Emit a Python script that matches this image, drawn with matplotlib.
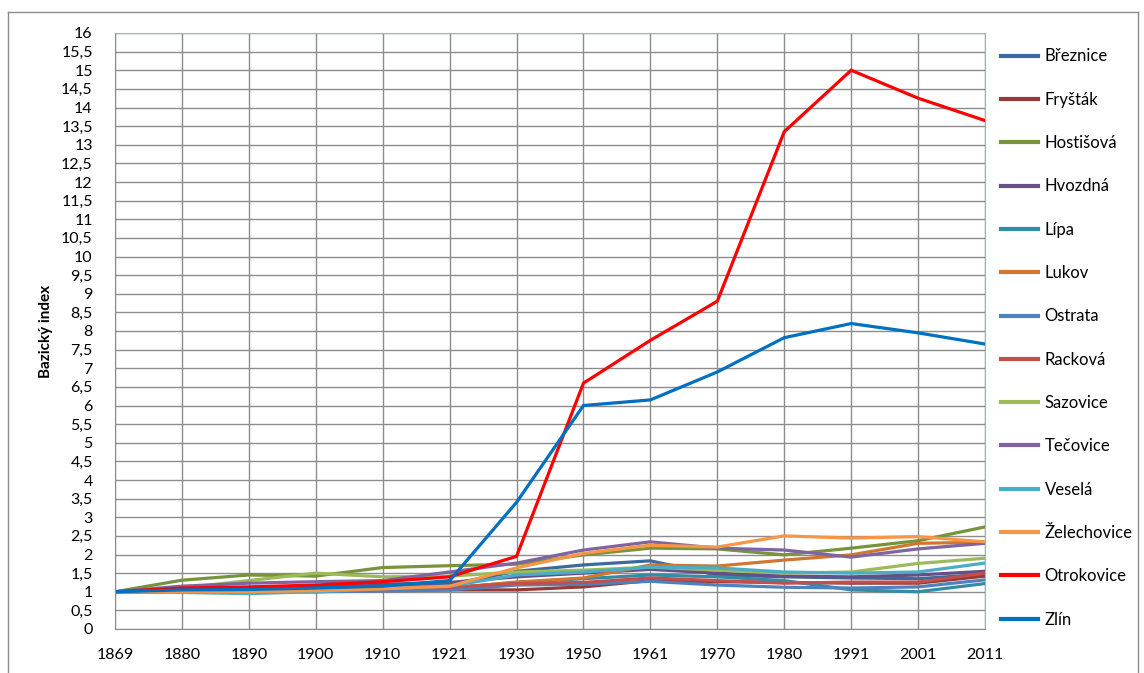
import matplotlib.pyplot as plt
from matplotlib.lines import Line2D

plt.rcParams['font.family'] = ['Lato', 'DejaVu Sans']

years = ['1869', '1880', '1890', '1900', '1910', '1921', '1930', '1950',
         '1961', '1970', '1980', '1991', '2001', '2011']

breznice = [1, 1.03, 1.05, 1.08, 1.1, 1.2, 1.55, 1.72, 1.83, 1.45, 1.4, 1.37, 1.35, 1.47]
frystak = [1, 1.0, 1.0, 1.02, 1.03, 1.05, 1.05, 1.13, 1.3, 1.27, 1.25, 1.23, 1.23, 1.42]
hostisova = [1, 1.31, 1.45, 1.42, 1.65, 1.7, 1.74, 1.99, 2.17, 2.15, 1.99, 2.17, 2.37, 2.74]
hvozdna = [1, 1.05, 1.1, 1.15, 1.2, 1.25, 1.4, 1.5, 1.6, 1.5, 1.42, 1.4, 1.45, 1.55]
lipa = [1, 1.0, 0.98, 1.0, 1.05, 1.1, 1.25, 1.35, 1.45, 1.4, 1.3, 1.05, 1.0, 1.22]
lukov = [1, 1.0, 1.0, 1.02, 1.05, 1.1, 1.26, 1.37, 1.72, 1.69, 1.85, 1.99, 2.3, 2.33]
ostrata = [1, 1.0, 1.0, 1.0, 1.02, 1.05, 1.18, 1.2, 1.28, 1.18, 1.12, 1.1, 1.13, 1.32]
rackova = [1, 1.02, 1.03, 1.05, 1.08, 1.12, 1.22, 1.25, 1.37, 1.3, 1.23, 1.26, 1.26, 1.5]
sazovice = [1, 1.1, 1.3, 1.5, 1.4, 1.42, 1.53, 1.58, 1.66, 1.58, 1.5, 1.53, 1.76, 1.9]
tecovice = [1, 1.15, 1.23, 1.27, 1.3, 1.53, 1.77, 2.12, 2.34, 2.17, 2.12, 1.93, 2.15, 2.3]
vesela = [1, 0.98, 0.95, 1.0, 1.08, 1.15, 1.45, 1.53, 1.66, 1.64, 1.53, 1.5, 1.53, 1.77]
zelechovice = [1, 1.0, 1.0, 1.03, 1.08, 1.15, 1.64, 2.03, 2.25, 2.2, 2.5, 2.44, 2.48, 2.34]
otrokovice = [1, 1.1, 1.13, 1.18, 1.27, 1.4, 1.95, 6.6, 7.75, 8.8, 13.35, 15.0, 14.25, 13.65]
zlin = [1, 1.05, 1.06, 1.1, 1.15, 1.3, 3.4, 6.0, 6.15, 6.9, 7.82, 8.2, 7.95, 7.65]

names = ['Březnice', 'Fryšták', 'Hostišová', 'Hvozdná', 'Lípa', 'Lukov', 'Ostrata',
         'Racková', 'Sazovice', 'Tečovice', 'Veselá', 'Želechovice', 'Otrokovice', 'Zlín']
series = [breznice, frystak, hostisova, hvozdna, lipa, lukov, ostrata,
          rackova, sazovice, tecovice, vesela, zelechovice, otrokovice, zlin]
colors = ['#3C6A9E', '#963A37', '#77933C', '#654F88', '#338CA6', '#D0762E', '#4F81BD',
          '#C0504D', '#9BBB59', '#8064A2', '#4BACC6', '#F79646', '#FF0000', '#0070C0']

fig = plt.figure(figsize=(11.44, 6.73), dpi=100)
ax = fig.add_axes([115 / 1144, 1 - 629 / 673, 870 / 1144, 596 / 673])

x = list(range(len(years)))
for name, vals, c in zip(names, series, colors):
    ax.plot(x, vals, color=c, lw=2.3, label=name, solid_joinstyle='miter')

ax.set_xlim(0, len(years) - 1)
ax.set_ylim(0, 16)
ax.set_xticks(x)
ax.set_xticklabels(years)
yt = [i * 0.5 for i in range(33)]
ax.set_yticks(yt)
ax.set_yticklabels([('%g' % v).replace('.', ',') for v in yt])
ax.tick_params(length=0, labelsize=11.5, colors='black')
ax.tick_params(axis='x', pad=14)
ax.tick_params(axis='y', pad=16)
ax.grid(True, color='#8C8C8C', lw=1)
ax.set_axisbelow(True)
for s in ['top', 'right']:
    ax.spines[s].set_color('#95B3D7')
for s in ['left', 'bottom']:
    ax.spines[s].set_color('#8C8C8C')

ax.set_ylabel('Bazický index', fontsize=11, fontweight='bold', labelpad=6)

handles = [Line2D([], [], color=c, lw=3) for c in colors]
fig.legend(handles, names, loc='upper left', bbox_to_anchor=(993 / 1144, 1 - 40 / 673),
           frameon=False, fontsize=12, handlelength=2.2, handletextpad=0.4,
           labelspacing=1.64, borderpad=0)

# outer chart frame
fig.add_artist(Line2D([8 / 1144, 8 / 1144], [0, 1 - 12 / 673], color='#8C8C8C', lw=1))
fig.add_artist(Line2D([8 / 1144, 1138 / 1144], [1 - 12 / 673, 1 - 12 / 673], color='#8C8C8C', lw=1))
fig.add_artist(Line2D([1138 / 1144, 1138 / 1144], [0, 1 - 12 / 673], color='#8C8C8C', lw=1))

fig.savefig('out.png', dpi=100)
